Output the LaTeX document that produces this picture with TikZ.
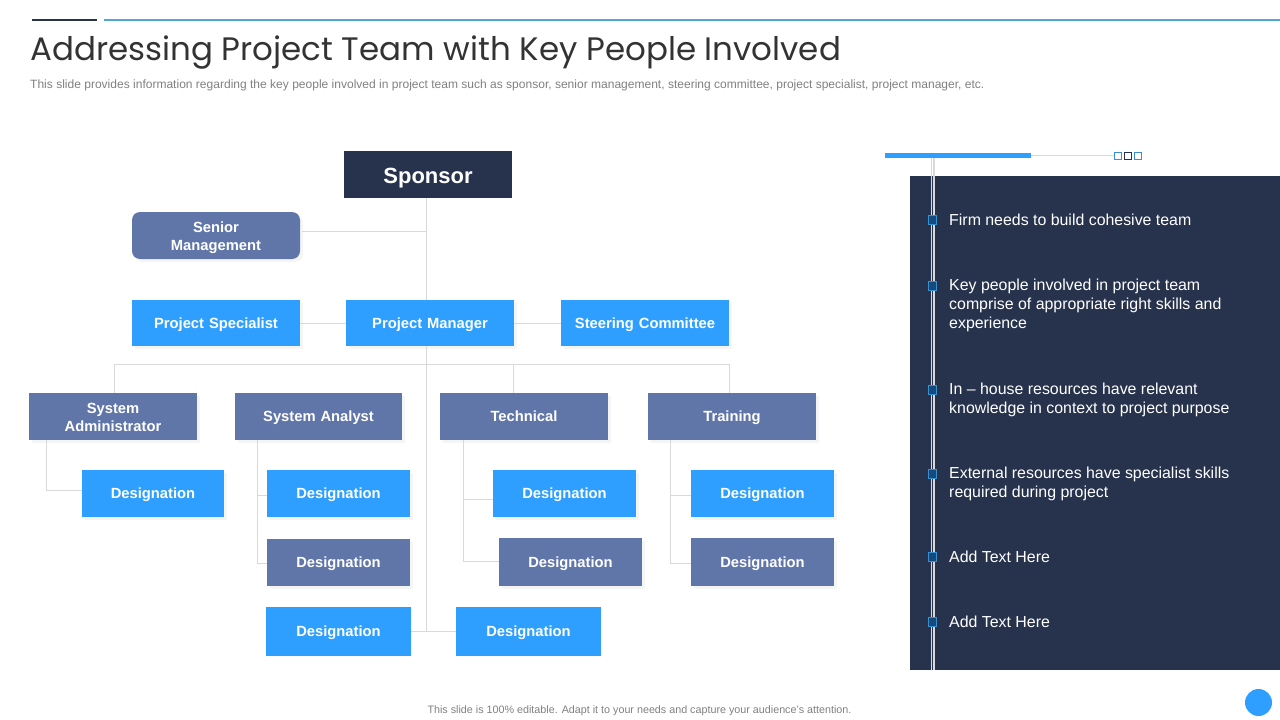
\documentclass[tikz,border=0pt]{standalone}
\usepackage{fontspec}
\usetikzlibrary{shadows}
\setmainfont{Liberation Sans}
\newfontfamily\titlefont{Poppins}
\definecolor{navy}{HTML}{27334D}
\definecolor{slate}{HTML}{6076A9}
\definecolor{azure}{HTML}{2E9FFF}
\definecolor{linegray}{HTML}{D9D9D9}
\definecolor{capline}{HTML}{4FA8D8}
\definecolor{dotfill}{HTML}{174A7C}
\definecolor{dotline}{HTML}{3A8FD0}
\tikzset{
  box/.style n args={4}{draw=none,inner sep=0pt,align=center,text=white,font=\bfseries\fontsize{14.75}{18}\selectfont,
    minimum width=#3,minimum height=#4,fill=#1,text width=#2,text height=13.5pt,text depth=3pt},
  twolines/.style={text depth=19.5pt},
  softshadow/.style={drop shadow={shadow xshift=3pt,shadow yshift=-3pt,opacity=.04,fill=black}},
  conn/.style={draw=linegray,line width=1pt},
  bullet/.style={draw=dotline,fill=dotfill,line width=.8pt,minimum size=8.5pt,inner sep=0pt},
  panel text/.style={anchor=west,align=left,text=white,inner sep=0pt,font=\fontsize{15.9}{19}\selectfont},
  tiny square/.style={minimum size=7pt,inner sep=0pt,line width=.8pt,fill=white},
}
\begin{document}
\begin{tikzpicture}[x=1pt,y=-1pt]
  \useasboundingbox (0,0) rectangle (1280,720);

  % header
  \draw[navy,line width=2pt] (32,19.5)--(97,19.5);
  \draw[capline,line width=2pt] (104,19.5)--(1280,19.5);
  \node[anchor=west,inner sep=0pt,text=black!80,font=\titlefont\fontsize{32.5}{36}\selectfont] (title) at (30,53) {Addressing Project Team with Key People Involved};
  \node[anchor=west,inner sep=0pt,text=black!50,font=\fontsize{12.03}{14}\selectfont] (subtitle) at (30,85) {This slide provides information regarding the key people involved in project team such as sponsor, senior management, steering committee, project specialist, project manager, etc.};

  % top of the chart
  \node[box={navy}{160pt}{168pt}{47pt},font=\bfseries\fontsize{22}{26}\selectfont,text height=22pt,text depth=4pt] (sponsor) at (428,174.5) {Sponsor};
  \node[box={slate}{150pt}{168pt}{47pt},twolines,rounded corners=8pt,softshadow] (senior) at (216,235.5) {Senior\\Management};
  \node[box={azure}{160pt}{168pt}{46pt},softshadow] (specialist) at (216,323) {Project Specialist};
  \node[box={azure}{160pt}{168pt}{46pt},softshadow] (manager) at (430,323) {Project Manager};
  \node[box={azure}{160pt}{168pt}{46pt},softshadow] (steering) at (645,323) {Steering Committee};

  % departments
  \node[box={slate}{150pt}{168pt}{47pt},twolines,softshadow] (sysadmin) at (113,416.5) {System\\Administrator};
  \node[box={slate}{150pt}{167pt}{47pt},softshadow] (analyst) at (318.5,416.5) {System Analyst};
  \node[box={slate}{150pt}{168pt}{47pt},softshadow] (technical) at (524,416.5) {Technical};
  \node[box={slate}{150pt}{168pt}{47pt},softshadow] (training) at (732,416.5) {Training};

  % designations
  \node[box={azure}{130pt}{142pt}{47pt},softshadow] (desa) at (153,493.5) {Designation};
  \node[box={azure}{130pt}{143pt}{47pt},softshadow] (desb) at (338.5,493.5) {Designation};
  \node[box={slate}{130pt}{143pt}{47pt},softshadow] (desc) at (338.5,562.5) {Designation};
  \node[box={azure}{130pt}{143pt}{47pt},softshadow] (desd) at (564.5,493.5) {Designation};
  \node[box={slate}{130pt}{143pt}{48pt},softshadow] (dese) at (570.5,562) {Designation};
  \node[box={azure}{130pt}{143pt}{47pt},softshadow] (desf) at (762.5,493.5) {Designation};
  \node[box={slate}{130pt}{143pt}{48pt},softshadow] (desg) at (762.5,562) {Designation};
  \node[box={azure}{130pt}{145pt}{49pt}] (desh) at (338.5,631.5) {Designation};
  \node[box={azure}{130pt}{145pt}{49pt}] (desi) at (528.5,631.5) {Designation};

  % connectors
  \coordinate (spine) at (426.5,632);
  \coordinate (seniorjoin) at (302,231.5);
  \coordinate (railleft) at (114.5,364);
  \coordinate (railmid) at (513.5,364);
  \coordinate (railright) at (729.5,364);
  \coordinate (admintrunk) at (46.5,490);
  \coordinate (analysttrunk) at (257.5,563);
  \coordinate (analysttick) at (257.5,495);
  \coordinate (techtrunk) at (463.5,561);
  \coordinate (techtick) at (463.5,499);
  \coordinate (traintrunk) at (670.5,563);
  \coordinate (traintick) at (670.5,495);

  \draw[conn] (sponsor.south -| spine)--(manager.north -| spine);
  \draw[conn] (manager.south -| spine)--(spine);
  \draw[conn] (seniorjoin)--(seniorjoin -| spine);
  \draw[conn] (specialist)--(manager);
  \draw[conn] (manager)--(steering);
  \draw[conn] (sysadmin.north -| railleft)--(railleft)--(railright)--(training.north -| railright);
  \draw[conn] (railmid)--(technical.north -| railmid);
  \draw[conn] (sysadmin.south -| admintrunk)--(admintrunk)--(admintrunk -| desa.west);
  \draw[conn] (analyst.south -| analysttrunk)--(analysttrunk)--(analysttrunk -| desc.west);
  \draw[conn] (analysttick)--(analysttick -| desb.west);
  \draw[conn] (technical.south -| techtrunk)--(techtrunk)--(techtrunk -| dese.west);
  \draw[conn] (techtick)--(techtick -| desd.west);
  \draw[conn] (training.south -| traintrunk)--(traintrunk)--(traintrunk -| desg.west);
  \draw[conn] (traintick)--(traintick -| desf.west);
  \draw[conn] (desh)--(desi);

  % right panel
  \fill[navy] (910,176) rectangle (1280,670);
  \draw[linegray,line width=1.2pt] (931.5,155)--(931.5,670);
  \draw[linegray,line width=1.2pt] (934,155)--(934,670);
  \draw[linegray,line width=1pt] (1031,155.5)--(1115,155.5);
  \draw[azure,line width=5pt] (885,155.5)--(1031,155.5);
  \node[tiny square,draw=dotline] (sqa) at (1118,155.5) {};
  \node[tiny square,draw=navy] (sqb) at (1128,155.5) {};
  \node[tiny square,draw=dotline] (sqc) at (1138,155.5) {};

  \foreach \name/\ypos in {a/220,b/286,c/390,d/474,e/557,f/622}
    \node[bullet] (dot\name) at (932.5,\ypos) {};

  \node[panel text] (ptexta) at (949,220) {Firm needs to build cohesive team};
  \node[panel text] (ptextb) at (949,305) {Key people involved in project team\\comprise of appropriate right skills and\\experience};
  \node[panel text] (ptextc) at (949,400) {In -- house resources have relevant\\knowledge in context to project purpose};
  \node[panel text] (ptextd) at (949,484) {External resources have specialist skills\\required during project};
  \node[panel text] (ptexte) at (949,557) {Add Text Here};
  \node[panel text] (ptextf) at (949,622) {Add Text Here};

  % footer
  \node[inner sep=0pt,text=black!50,font=\fontsize{10.75}{12}\selectfont] (footer) at (639.5,710.5) {This slide is 100\% editable. Adapt it to your needs and capture your audience's attention.};
  \node[circle,fill=azure,minimum size=27pt,inner sep=0pt] (pagedot) at (1258.5,702.5) {};
\end{tikzpicture}
\end{document}
